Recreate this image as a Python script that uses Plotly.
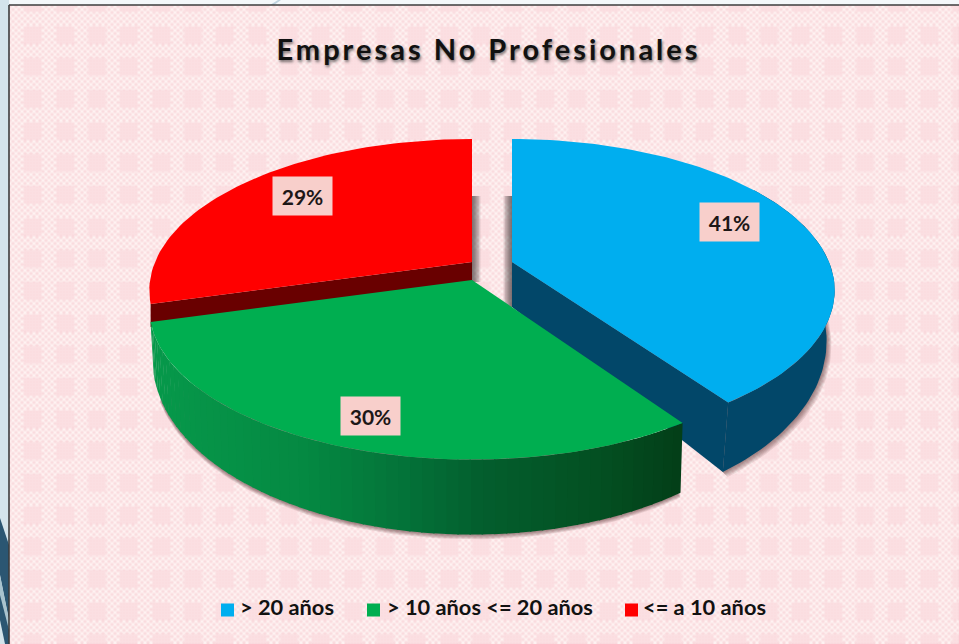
import base64, struct, zlib
import numpy as np
import plotly.graph_objects as go

# ---- data ----
categories = ["> 20 años", "> 10 años <= 20 años", "<= a 10 años"]
shares = [40.51, 30.1, 29.39]
title_text = "Empresas No Profesionales"

# ---- styles ----
top_colors = ["#00AEEF", "#00AE50", "#FF0000"]
wall_blue = "#024769"
wall_red = "#690000"
green_wall_stops = [(152, (7, 153, 75)), (300, (5, 138, 67)), (400, (4, 116, 58)),
                    (480, (3, 95, 46)), (600, (3, 80, 34)), (685, (3, 62, 24))]
apex = [(512, 262), (472, 280), (472, 262)]
label_pos = [(729, 222), (370.5, 415.5), (302, 196)]
legend_marker_x = [227.5, 373.5, 631.5]
legend_text_x = [240, 387, 643]
A, B, P = 317, 146, 0.187
DEPTH_BASE, DEPTH_NEAR = 45, 30
BLUE_END_TRIM = 0.02
FLOOR_SCALE_BLUE, FLOOR_SCALE_GREEN = 0.975, 0.99


def texture():
    h, w = 644, 959
    Y, X = np.mgrid[0:h, 0:w]
    d1, d2 = (X + Y) % 6, (X - Y) % 6
    lat = (d1 < 2) | (d2 < 2)
    r = np.full((h, w), 249.0); g = np.full((h, w), 214.0); b = np.full((h, w), 218.0)
    r[lat], g[lat], b[lat] = 255, 246, 245
    fx, fy = (X + 8) % 32, (Y + 6) % 32
    block = (fx < 18) & (fy < 18)
    dots = ((X % 3) < 2) & ((Y % 3) < 2)
    r[block], g[block], b[block] = 253, 232, 233
    sel = block & dots
    r[sel], g[sel], b[sel] = 249, 210, 216
    img = np.dstack([r, g, b])
    out = np.zeros_like(img)
    for dx in (-1, 0, 1):
        for dy in (-1, 0, 1):
            out += np.roll(np.roll(img, dy, 0), dx, 1) * (2 if dx == dy == 0 else 1)
    img = out / 10
    raw = np.zeros((h, w * 3 + 1), dtype=np.uint8)
    raw[:, 1:] = img.astype(np.uint8).reshape(h, -1)

    def chunk(t, d):
        return struct.pack(">I", len(d)) + t + d + struct.pack(">I", zlib.crc32(t + d))
    png = (b"\x89PNG\r\n\x1a\n" + chunk(b"IHDR", struct.pack(">IIBBBBB", w, h, 8, 2, 0, 0, 0))
           + chunk(b"IDAT", zlib.compress(raw.tobytes(), 9)) + chunk(b"IEND", b""))
    return "data:image/png;base64," + base64.b64encode(png).decode()


def rim(center, th, floor_scale=None):
    u, v = np.sin(th), -np.cos(th)
    w = 1 - P * v
    dx, dy = A * u / w, B * v / w
    if floor_scale is not None:
        return center[0] + floor_scale * dx, center[1] + dy + DEPTH_BASE + DEPTH_NEAR * v
    return center[0] + dx, center[1] + dy


def poly(x, y, color, name=None):
    return go.Scatter(x=list(x), y=list(y), mode="lines", fill="toself", fillcolor=color,
                      line=dict(width=0), hoverinfo="skip", showlegend=False, name=name)


cum = np.cumsum([0] + shares) / sum(shares) * 2 * np.pi
spans = [(cum[i], cum[i + 1]) for i in range(3)]
blue_end = spans[0][1] - BLUE_END_TRIM
fig = go.Figure()

# soft shadows
for off in range(1, 7):
    a = 0.10
    th = np.linspace(spans[1][0], spans[1][1] - .12, 60)
    bx, by = rim(apex[1], th, FLOOR_SCALE_GREEN)
    fig.add_trace(poly(np.r_[bx, apex[1][0]], np.r_[by + off * .8, apex[1][1]], f"rgba(70,25,25,{a})"))
    th = np.linspace(spans[0][0] + 1.2, blue_end, 50)
    bx, by = rim(apex[0], th, FLOOR_SCALE_BLUE)
    fig.add_trace(poly(np.r_[bx + off * .8, apex[0][0]], np.r_[by + off * .8, apex[0][1]], f"rgba(70,25,25,{a})"))
    fig.add_trace(poly([512 - off * 1.4, 512, 512, 512 - off * 1.4], [196, 196, 312, 312], f"rgba(50,40,40,{a + .04})"))
    fig.add_trace(poly([472, 472 + off * 1.4, 472 + off * 1.4, 472], [196, 196, 282, 282], f"rgba(50,40,40,{a + .04})"))

# blue slice
t0 = spans[0][0]
th_top = np.linspace(t0, blue_end, 90)
th_wall = np.linspace(1.0, blue_end, 70)
bx, by = rim(apex[0], th_wall, FLOOR_SCALE_BLUE)
wx, wy = rim(apex[0], th_wall)
fig.add_trace(poly(np.r_[wx, bx[::-1]], np.r_[wy, by[::-1]], wall_blue))
ax0, ay0 = apex[0]
fig.add_trace(poly([ax0, wx[-1], bx[-1], ax0], [ay0, wy[-1], by[-1], ay0 + DEPTH_BASE], wall_blue))
tx, ty = rim(apex[0], th_top)
fig.add_trace(poly(np.r_[ax0, tx], np.r_[ay0, ty], top_colors[0], categories[0]))

# red slice
t0, t1 = spans[2]
th = np.linspace(t0, t1, 70)
tx, ty = rim(apex[2], th)
ax2, ay2 = apex[2]
fig.add_trace(poly([ax2, tx[0], tx[0], ax2], [ay2, ty[0], ty[0] + 23, ay2 + 23], wall_red))
fig.add_trace(poly(np.r_[ax2, tx], np.r_[ay2, ty], top_colors[2], categories[2]))

# green slice: shaded wall built from thin strips
t0, t1 = spans[1]
edges = np.linspace(t0, t1, 61)
xs = [s[0] for s in green_wall_stops]
for a, b_ in zip(edges[:-1], edges[1:]):
    th = np.array([a, b_ + .004])
    tx, ty = rim(apex[1], th)
    bx, by = rim(apex[1], th, FLOOR_SCALE_GREEN)
    mid = tx.mean()
    c = [int(np.interp(mid, xs, [s[1][i] for s in green_wall_stops])) for i in range(3)]
    fig.add_trace(poly([tx[0], tx[1], bx[1], bx[0]], [ty[0], ty[1], by[1], by[0]], f"rgb({c[0]},{c[1]},{c[2]})"))
th = np.linspace(t0, t1, 90)
tx, ty = rim(apex[1], th)
fig.add_trace(poly(np.r_[apex[1][0], tx], np.r_[apex[1][1], ty], top_colors[1], categories[1]))

# hand-placed legend row
fig.add_trace(go.Scatter(x=legend_marker_x, y=[610] * 3, mode="markers", hoverinfo="skip", showlegend=False,
                         marker=dict(symbol="square", size=13, color=top_colors)))
fig.add_trace(go.Scatter(x=legend_text_x, y=[610] * 3, mode="text", text=categories,
                         textposition="middle right", hoverinfo="skip", showlegend=False,
                         textfont=dict(family="Lato", size=21.8, color="#111111", weight="bold")))

annotations = [dict(x=x, y=y, xref="x", yref="y", text=f"<b>{round(s)}%</b>", showarrow=False,
                    font=dict(family="Lato", size=21, color="#1d1717"), bgcolor="#F8CFCB",
                    width=57, height=36, align="center", valign="middle")
               for (x, y), s in zip(label_pos, shares)]
annotations.append(dict(x=488, y=48, xref="x", yref="y", text=f"<b>{title_text}</b>", showarrow=False,
                        font=dict(family="Lato", size=29, color="#111111",
                                  shadow="1px 2px 3px rgba(60,60,60,.7)")))

shapes = [
    dict(type="rect", x0=0, x1=959, y0=0, y1=5, fillcolor="#F4F8FA", line_width=0, layer="below"),
    dict(type="rect", x0=0, x1=9, y0=0, y1=644, fillcolor="#D4E4EB", line_width=0, layer="below"),
    dict(type="path", path="M0,518 L9,545 L9,620 L0,575 Z", fillcolor="#2B5672", line_width=0, layer="below"),
    dict(type="path", path="M0,575 L9,620 L9,644 L0,610 Z", fillcolor="#A9C3CE", line_width=0, layer="below"),
    dict(type="path", path="M0,595 L9,630 L9,644 L5,644 L0,620 Z", fillcolor="#2B5672", line_width=0, layer="below"),
    dict(type="path", path="M270,5 L278,0 L281,0 L274,5 Z", fillcolor="#BFD4DF", line_width=0, layer="below"),
    dict(type="line", x0=9, x1=9, y0=5, y1=644, line=dict(color="#3C3C3C", width=1.6), layer="below"),
    dict(type="line", x0=9, x1=959, y0=5, y1=5, line=dict(color="#3C3C3C", width=1.4), layer="below"),
]

fig.update_layout(
    width=959, height=644, margin=dict(l=0, r=0, t=0, b=0), autosize=False,
    paper_bgcolor="#FBE2E3", plot_bgcolor="rgba(0,0,0,0)", showlegend=False,
    xaxis=dict(range=[0, 959], visible=False, fixedrange=True),
    yaxis=dict(range=[644, 0], visible=False, fixedrange=True),
    annotations=annotations, shapes=shapes,
    images=[dict(source=texture(), xref="paper", yref="paper", x=0, y=1, sizex=1, sizey=1,
                 xanchor="left", yanchor="top", sizing="stretch", layer="below")],
)

post = """
document.querySelectorAll('.annotation-text').forEach(function(t){
  if (t.textContent.indexOf('Empresas') === 0) { t.style.letterSpacing = '3px'; }
});
document.body.style.margin = '0';
"""
fig.write_html("out.html", post_script=post, config={"displayModeBar": False})
